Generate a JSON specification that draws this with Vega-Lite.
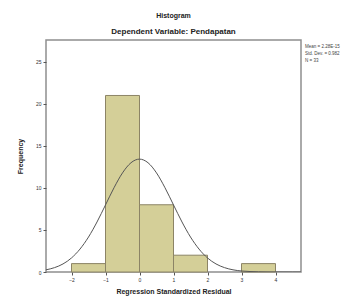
{
  "$schema": "https://vega.github.io/schema/vega-lite/v6.json",
  "width": 255,
  "height": 232,
  "autosize": {"type": "none"},
  "padding": {"left": 46, "top": 40, "right": 56, "bottom": 31},
  "background": "white",
  "config": {
    "font": "Liberation Sans",
    "view": {"fill": "#efefef", "stroke": "#8f8f8f", "strokeWidth": 1.5},
    "axis": {"grid": false, "domain": false, "tickColor": "#555", "tickSize": 3, "labelFontSize": 5, "labelColor": "#333", "titleFontSize": 7, "titleColor": "#222", "titleFontWeight": "bold"}
  },
  "title": {
    "text": "Histogram",
    "subtitle": "Dependent Variable: Pendapatan",
    "fontSize": 7,
    "fontWeight": "bold",
    "subtitleFontSize": 8,
    "subtitleFontWeight": "bold",
    "subtitleColor": "#222",
    "color": "#222",
    "subtitlePadding": 9,
    "offset": 4,
    "anchor": "middle"
  },
  "datasets": {
    "bars": [
      {"start": -2, "end": -1, "count": 1},
      {"start": -1, "end": 0, "count": 21},
      {"start": 0, "end": 1, "count": 8},
      {"start": 1, "end": 2, "count": 2},
      {"start": 3, "end": 4, "count": 1}
    ],
    "curve": [
      {"x": -2.75, "y": 0.26}, {"x": -2.5, "y": 0.52}, {"x": -2.25, "y": 0.96}, {"x": -2.0, "y": 1.67},
      {"x": -1.75, "y": 2.73}, {"x": -1.5, "y": 4.16}, {"x": -1.25, "y": 5.95}, {"x": -1.0, "y": 7.98},
      {"x": -0.75, "y": 10.02}, {"x": -0.5, "y": 11.79}, {"x": -0.25, "y": 13.0}, {"x": 0, "y": 13.43},
      {"x": 0.25, "y": 13.0}, {"x": 0.5, "y": 11.79}, {"x": 0.75, "y": 10.02}, {"x": 1.0, "y": 7.98},
      {"x": 1.25, "y": 5.95}, {"x": 1.5, "y": 4.16}, {"x": 1.75, "y": 2.73}, {"x": 2.0, "y": 1.67},
      {"x": 2.25, "y": 0.96}, {"x": 2.5, "y": 0.52}, {"x": 2.75, "y": 0.26}, {"x": 3.0, "y": 0.12},
      {"x": 3.25, "y": 0.055}, {"x": 3.5, "y": 0.023}, {"x": 3.75, "y": 0.009}, {"x": 4.0, "y": 0.003},
      {"x": 4.5, "y": 0.0}, {"x": 4.75, "y": 0.0}
    ],
    "stats": [
      {"line1": "Mean = 2.28E-15", "line2": "Std. Dev. = 0.982", "line3": "N = 33"}
    ]
  },
  "layer": [
    {
      "data": {"name": "bars"},
      "mark": {"type": "bar", "fill": "#d4cf98", "stroke": "#8c8466", "strokeWidth": 1},
      "encoding": {
        "x": {"field": "start", "type": "quantitative", "scale": {"domain": [-2.75, 4.75], "nice": false, "zero": false},
              "axis": {"values": [-2, -1, 0, 1, 2, 3, 4], "title": "Regression Standardized Residual", "titlePadding": 5, "labelPadding": 2}},
        "x2": {"field": "end"},
        "y": {"field": "count", "type": "quantitative", "scale": {"domain": [0, 27.6], "nice": false},
              "axis": {"values": [0, 5, 10, 15, 20, 25], "title": "Frequency", "titlePadding": 12, "labelPadding": 2}},
        "y2": {"datum": 0}
      }
    },
    {
      "data": {"name": "curve"},
      "mark": {"type": "line", "color": "#555", "strokeWidth": 1, "interpolate": "monotone", "clip": true},
      "encoding": {
        "x": {"field": "x", "type": "quantitative"},
        "y": {"field": "y", "type": "quantitative"}
      }
    },
    {
      "data": {"name": "stats"},
      "mark": {"type": "text", "align": "left", "baseline": "top", "fontSize": 4.5, "color": "#444", "x": {"expr": "width + 4"}, "y": 4},
      "encoding": {"text": {"field": "line1"}}
    },
    {
      "data": {"name": "stats"},
      "mark": {"type": "text", "align": "left", "baseline": "top", "fontSize": 4.5, "color": "#444", "x": {"expr": "width + 4"}, "y": 11},
      "encoding": {"text": {"field": "line2"}}
    },
    {
      "data": {"name": "stats"},
      "mark": {"type": "text", "align": "left", "baseline": "top", "fontSize": 4.5, "color": "#444", "x": {"expr": "width + 4"}, "y": 18},
      "encoding": {"text": {"field": "line3"}}
    }
  ]
}
